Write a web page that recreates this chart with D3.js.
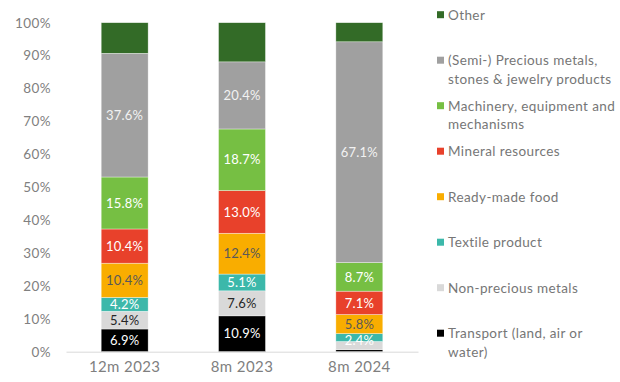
<!DOCTYPE html>
<html>
<head>
<meta charset="utf-8">
<script src="https://cdn.jsdelivr.net/npm/d3@7"></script>
<style>
  html, body { margin: 0; padding: 0; background: #fff; }
  svg { display: block; font-family: Lato, "Open Sans", sans-serif; }
</style>
</head>
<body>
<svg id="chart" width="620" height="382"></svg>
<script>
// Periods on the x axis
const periods = ["12m 2023", "8m 2023", "8m 2024"];

// Product groups, bottom of the stack first
const groups = [
  "Transport (land, air or water)",
  "Non-precious metals",
  "Textile product",
  "Ready-made food",
  "Mineral resources",
  "Machinery, equipment and mechanisms",
  "(Semi-) Precious metals, stones & jewelry products",
  "Other"
];

// Share of each group (%) per period
const transport   = [6.9, 10.9, 0.6];
const nonPrecious = [5.4, 7.6, 2.5];
const textile     = [4.2, 5.1, 2.4];
const food        = [10.4, 12.4, 5.8];
const mineral     = [10.4, 13.0, 7.1];
const machinery   = [15.8, 18.7, 8.7];
const precious    = [37.6, 20.4, 67.1];
const other       = [9.3, 11.9, 5.8];

// Which segments carry a value label
const labelled = {
  "12m 2023": [true, true, true, true, true, true, true, false],
  "8m 2023":  [true, true, true, true, true, true, true, false],
  "8m 2024":  [false, false, true, true, true, true, true, false]
};

const yTicks = [0, 10, 20, 30, 40, 50, 60, 70, 80, 90, 100];

// Legend lines (wrapped), top to bottom
const legendLines = [
  ["Other"],
  ["(Semi-) Precious metals,", "stones & jewelry products"],
  ["Machinery, equipment and", "mechanisms"],
  ["Mineral resources"],
  ["Ready-made food"],
  ["Textile product"],
  ["Non-precious metals"],
  ["Transport (land, air or", "water)"]
];

const seriesValues = [transport, nonPrecious, textile, food, mineral, machinery, precious, other];

const fills = ["#000000", "#d9d9d9", "#3cb8aa", "#f9ad00", "#e8412b", "#76bf43", "#a0a0a0", "#336b27"];
const labelFills = ["#ffffff", "#262626", "#ffffff", "#595959", "#ffffff", "#ffffff", "#f2f2f2", "#ffffff"];

const rows = periods.map((p, i) => {
  const r = { period: p };
  groups.forEach((g, k) => { r[g] = seriesValues[k][i]; });
  return r;
});

const stacked = d3.stack().keys(groups)(rows);

const svg = d3.select("#chart");

const x = d3.scaleBand().domain(periods).range([66, 418]).paddingInner(0.6).paddingOuter(0.3);
const y = d3.scaleLinear().domain([0, 100]).range([351.7, 22.7]);
const color = d3.scaleOrdinal().domain(groups).range(fills);

// Bars
const layer = svg.append("g").selectAll("g")
  .data(stacked)
  .join("g")
  .attr("fill", d => color(d.key));

layer.selectAll("rect")
  .data(d => d)
  .join("rect")
  .attr("x", d => x(d.data.period))
  .attr("width", x.bandwidth())
  .attr("y", d => y(d[1]))
  .attr("height", d => y(d[0]) - y(d[1]))
  .attr("stroke", "#ffffff")
  .attr("stroke-opacity", 0.6)
  .attr("stroke-width", 0.6);

// Value labels: centred in each segment, with thin neighbours pushed apart
const fmt = v => v.toFixed(1) + "%";
const minGap = 16;
const labels = [];
periods.forEach((p, i) => {
  let prevY = Infinity;
  stacked.forEach((s, k) => {
    if (!labelled[p][k]) return;
    const d = s[i];
    let ly = y((d[0] + d[1]) / 2);
    labels.push({ period: p, k, value: d[1] - d[0], y: ly });
  });
});
// resolve overlaps top-down within each bar: lower label moves down
periods.forEach(p => {
  const list = labels.filter(l => l.period === p).sort((a, b) => a.y - b.y);
  for (let j = 1; j < list.length; j++) {
    if (list[j].y - list[j - 1].y < minGap) list[j].y = list[j - 1].y + minGap;
  }
});

svg.append("g").selectAll("text")
  .data(labels)
  .join("text")
  .attr("x", d => x(d.period) + x.bandwidth() / 2)
  .attr("y", d => d.y)
  .attr("dy", "0.36em")
  .attr("text-anchor", "middle")
  .attr("font-size", 13)
  .attr("letter-spacing", 0.2)
  .attr("fill", d => labelFills[d.k])
  .text(d => fmt(d.value));

// Y axis labels (no line, no ticks)
const yAxis = svg.append("g")
  .attr("transform", "translate(51,0)")
  .call(d3.axisLeft(y).tickValues(yTicks).tickFormat(d => d + "%").tickSize(0).tickPadding(0));
yAxis.select(".domain").remove();
yAxis.selectAll("text")
  .attr("font-size", 13.5)
  .attr("letter-spacing", 0.4)
  .attr("fill", "#808080")
  .attr("font-family", "Lato, 'Open Sans', sans-serif");

// X axis
const xAxis = svg.append("g")
  .attr("transform", "translate(0,351.7)")
  .call(d3.axisBottom(x).tickSize(0).tickPadding(10));
xAxis.select(".domain").attr("stroke", "#d9d9d9").attr("stroke-width", 1);
xAxis.selectAll("text")
  .attr("font-size", 15)
  .attr("letter-spacing", 0.4)
  .attr("fill", "#7f7f7f")
  .attr("font-family", "Lato, 'Open Sans', sans-serif");

// Legend
const legend = svg.append("g");
const legendOrder = groups.slice().reverse();
legendOrder.forEach((g, i) => {
  const cy = 14.7 + i * 45.5;
  legend.append("rect")
    .attr("x", 437).attr("y", cy - 3.5)
    .attr("width", 7).attr("height", 7)
    .attr("fill", color(g));
  const t = legend.append("text")
    .attr("x", 448).attr("y", cy)
    .attr("font-size", 13.5)
    .attr("letter-spacing", 0.4)
    .attr("fill", "#767676");
  legendLines[i].forEach((line, j) => {
    t.append("tspan")
      .attr("x", 448)
      .attr("y", cy + j * 18.7)
      .attr("dy", "0.36em")
      .text(line);
  });
});
</script>
</body>
</html>
